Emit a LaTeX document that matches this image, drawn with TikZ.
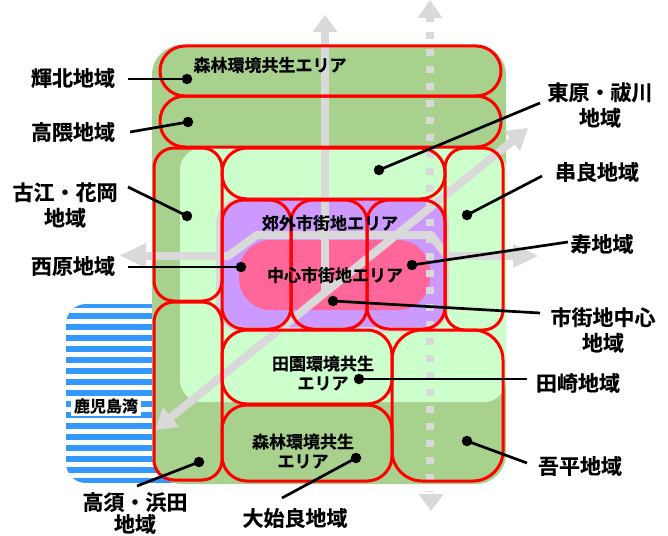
\documentclass[tikz,border=0pt]{standalone}
\usepackage{fontspec}
\setmainfont[BoldFont={Noto Sans CJK JP Bold},BoldFeatures={FakeBold=0.4}]{Noto Sans CJK JP}
\usetikzlibrary{arrows.meta}
\definecolor{forest}{RGB}{169,209,142}
\definecolor{paddy}{RGB}{204,255,204}
\definecolor{suburb}{RGB}{204,153,255}
\definecolor{core}{RGB}{255,102,153}
\definecolor{road}{RGB}{217,217,217}
\definecolor{bay}{RGB}{51,153,255}
\tikzset{
  x=1pt,y=-1pt,
  region/.style={draw=red,line width=3pt},
  roadline/.style={draw=road,line width=8pt},
  roadtip/.style={fill=road,draw=none},
  dotmark/.style={circle,fill=black,draw=none,inner sep=0pt,minimum size=10.5pt},
  leader/.style={draw=black,line width=2.7pt},
  place/.style={font=\bfseries\fontsize{21}{25.5}\selectfont,inner sep=0pt,align=center,text=black},
  area/.style={font=\bfseries\fontsize{17}{19.5}\selectfont,inner sep=0pt,align=center,text=black},
}
\begin{document}
\begin{tikzpicture}
\useasboundingbox (0,0) rectangle (668,535);
\fill[white] (0,0) rectangle (668,535);
% bay
\begin{scope}
\clip[rounded corners=20] (66,304) rectangle (190,483);
\fill[bay] (66,304) rectangle (190,483);
\foreach \yy in {308,319,330,341,352,363,374,385,396,407,418,429,440,451,462,473}
  \fill[white] (66,\yy) rectangle (190,\yy+5);
\end{scope}
% land
\fill[forest,rounded corners=30] (152,45) rectangle (506,484);
\fill[paddy,rounded corners=22] (180,148) rectangle (506,402);
\fill[road,rounded corners=26] (216,197) rectangle (449,332);
\fill[suburb,rounded corners=22] (223,200) rectangle (445,327);
\fill[core,rounded corners=32] (239,240) rectangle (430,310);
% roads
\draw[roadline] (325,28) -- (325,292);
\fill[roadtip] (325,15) -- (337.5,32) -- (312.5,32) -- cycle;
\draw[roadline,dash pattern=on 7pt off 10pt] (430,15) -- (430,492);
\fill[roadtip] (430,0) -- (442.5,18) -- (417.5,18) -- cycle;
\fill[roadtip] (431,511) -- (443.5,494) -- (418.5,494) -- cycle;
\draw[roadline] (170,418) -- (515,139);
\fill[roadtip] (528,128) -- (520,151) -- (504,131) -- cycle;
\fill[roadtip] (155,430) -- (163,407) -- (179,427) -- cycle;
\draw[roadline,line join=round] (140,256) -- (228,256) -- (257,235) -- (431,235) -- (447,256) -- (520,256);
\fill[roadtip] (538,256) -- (513,268) -- (513,244) -- cycle;
\fill[roadtip] (120,255.5) -- (146,268) -- (146,243) -- cycle;
% regions
\draw[region,rounded corners=25] (160,46) rectangle (501,96);
\draw[region,rounded corners=25] (160,96) rectangle (501,147);
\draw[region,rounded corners=20] (154,148) rectangle (222,301);
\draw[region,rounded corners=25] (222,148) rectangle (445,199);
\draw[region,rounded corners=20] (445,148) rectangle (503,330);
\draw[region,rounded corners=22] (222,200) rectangle (291,329);
\draw[region,rounded corners=22] (291,200) rectangle (367,329);
\draw[region,rounded corners=22] (367,200) rectangle (445,329);
\draw[region,rounded corners=20] (154,302) rectangle (222,480);
\draw[region,rounded corners=25] (222,330) rectangle (392,404);
\draw[region,rounded corners=25] (222,405) rectangle (392,481);
\draw[region,rounded corners=30] (392,330) rectangle (503,481);
% area labels
\node[area] (a1) at (270,65) {森林環境共生エリア};
\node[area] (a2) at (330,223) {郊外市街地エリア};
\node[area] (a3) at (335,275) {中心市街地エリア};
\node[area] (a4) at (323,373) {田園環境共生\\エリア};
\node[area] (a5) at (303,451) {森林環境共生\\エリア};
\node[fill=white,inner xsep=3pt,inner ysep=2pt,font=\bfseries\fontsize{16}{18}\selectfont] (bayname) at (106,406) {鹿児島湾};
% dots
\node[dotmark] (d1) at (187,79) {};
\node[dotmark] (d2) at (188,122) {};
\node[dotmark] (d3) at (187,216) {};
\node[dotmark] (d4) at (241,267) {};
\node[dotmark] (d5) at (379,170) {};
\node[dotmark] (d6) at (467,215) {};
\node[dotmark] (d7) at (412,265) {};
\node[dotmark] (d8) at (333,301) {};
\node[dotmark] (d9) at (359,379) {};
\node[dotmark] (d10) at (467,441) {};
\node[dotmark] (d11) at (356,458) {};
\node[dotmark] (d12) at (199,462) {};
% free ends
\coordinate (e1) at (128,79);
\coordinate (e2) at (130,132);
\coordinate (e3) at (128,187);
\coordinate (e4) at (128,267);
\coordinate (e5) at (540,103);
\coordinate (e6) at (542,176);
\coordinate (e7) at (568,242);
\coordinate (e8) at (540,313);
\coordinate (e9) at (527,379);
\coordinate (e10) at (527,463);
\coordinate (e11) at (282,498);
\coordinate (e12) at (137,486);
\foreach \i in {1,...,12} \draw[leader] (e\i) -- (d\i.center);
% place labels
\node[place] (p1) at (73,78) {輝北地域};
\node[place] (p2) at (73,132) {高隈地域};
\node[place] (p3) at (65,205) {古江・花岡\\地域};
\node[place] (p4) at (73,266) {西原地域};
\node[place] (p5) at (600,105) {東原・祓川\\地域};
\node[place] (p6) at (597,172) {串良地域};
\node[place] (p7) at (602,244) {寿地域};
\node[place] (p8) at (603,330) {市街地中心\\地域};
\node[place] (p9) at (578,383) {田崎地域};
\node[place] (p10) at (580,466) {吾平地域};
\node[place,font=\bfseries\fontsize{21}{22}\selectfont] (p11) at (135,513) {高須・浜田\\地域};
\node[place] (p12) at (295,518) {大始良地域};
\end{tikzpicture}
\end{document}
